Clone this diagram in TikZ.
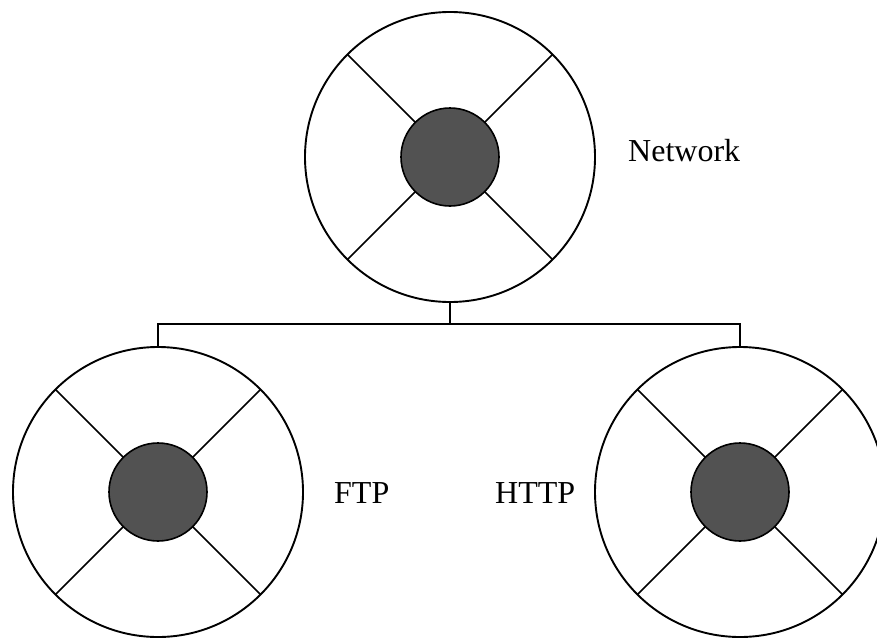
\documentclass[tikz,border=0pt]{standalone}
\usepackage{fontspec}
\setmainfont{Liberation Serif}
\begin{document}
\begin{tikzpicture}[x=1pt,y=-1pt,
  outerring/.style={circle,draw=black,line width=1.9pt,fill=white,minimum size=290pt,inner sep=0pt,outer sep=0pt},
  hub/.style={circle,draw=black,line width=1.6pt,fill=black!68,minimum size=98pt,inner sep=0pt,outer sep=0pt},
  spoke/.style={line width=1.6pt},
  wire/.style={line width=1.6pt},
  lbl/.style={font=\fontsize{32}{38}\selectfont,inner sep=0pt,anchor=base west}]
\useasboundingbox (0,0) rectangle (877,637);
\begin{scope}
\clip (0,0) rectangle (877,637);
% top
\node[outerring] (net) at (450,157) {};
\node[hub] (netc) at (450,157) {};
% left
\node[outerring] (ftp) at (158,492) {};
\node[hub] (ftpc) at (158,492) {};
% right
\node[outerring] (http) at (740,492) {};
\node[hub] (httpc) at (740,492) {};
\foreach \n in {net,ftp,http}{
  \foreach \a in {45,135,225,315}{
    \draw[spoke] (\n c.\a) -- (\n.\a);
  }
}
\coordinate (bus) at (450,324);
\draw[wire] (net.south) -- (bus);
\draw[wire] (ftp.north) |- (bus) -| (http.north);
\end{scope}
\node[lbl] (netl) at (628,161) {Network};
\node[lbl] (ftpl) at (334,503) {FTP};
\node[lbl] (httpl) at (495,503) {HTTP};
\end{tikzpicture}
\end{document}
